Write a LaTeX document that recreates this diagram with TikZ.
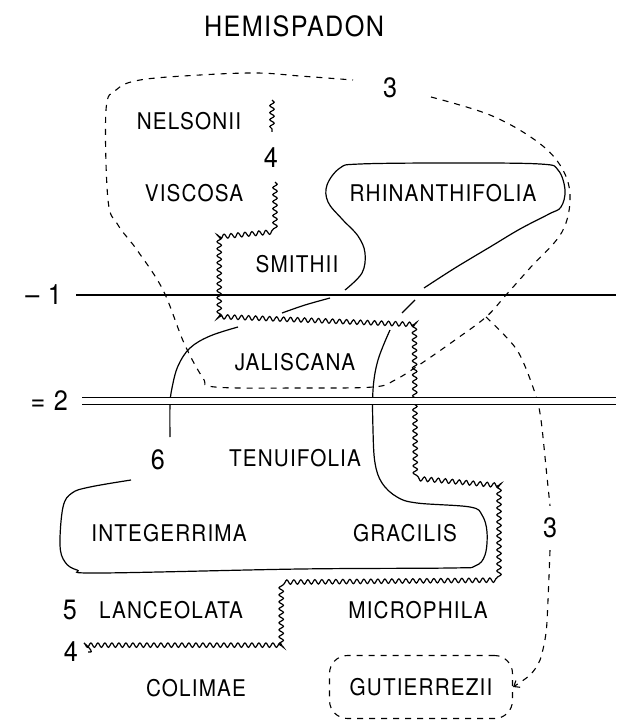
\documentclass[tikz,border=0pt]{standalone}
\usepackage{fontspec}
\setmainfont{TeX Gyre Heros}[FakeStretch=0.9,LetterSpace=5]
\usetikzlibrary{decorations.pathmorphing,arrows.meta}
\tikzset{
  lbl/.style={font=\fontsize{23}{26}\selectfont, inner sep=0pt},
  num/.style={font=\fontsize{28}{32}\selectfont, inner sep=0pt},
  ttl/.style={font=\fontsize{28}{32}\selectfont, inner sep=0pt},
  grp/.style={line width=1.2pt},
  dgrp/.style={line width=1.1pt, dash pattern=on 6pt off 6pt},
  wavy/.style={line width=1.2pt, decorate,
    decoration={snake, segment length=7pt, amplitude=2.2pt}},
  bar/.style={line width=1.3pt}
}
\begin{document}
\begin{tikzpicture}[x=1pt,y=-1pt]
  \useasboundingbox (0,0) rectangle (616,722);
  \node[ttl] (title) at (294,26) {HEMISPADON};
  \node[num] (threeT) at (390,88) {3};
  \node[lbl] (nelsonii) at (189,121) {NELSONII};
  \node[num] (fourT) at (271,158) {4};
  \node[lbl] (viscosa) at (194,193) {VISCOSA};
  \node[lbl] (rhin) at (443,193) {RHINANTHIFOLIA};
  \node[lbl] (smithii) at (297,264) {SMITHII};
  \node[lbl] (jalis) at (295,362) {JALISCANA};
  \node[num] (six) at (158,460) {6};
  \node[lbl] (tenui) at (295,458) {TENUIFOLIA};
  \node[lbl] (integ) at (169,533) {INTEGERRIMA};
  \node[lbl] (gracilis) at (405,533) {GRACILIS};
  \node[num, outer sep=12pt] (threeR) at (550,528) {3};
  \node[num] (five) at (70,610) {5};
  \node[lbl] (lanceo) at (171,610) {LANCEOLATA};
  \node[lbl] (microph) at (418,610) {MICROPHILA};
  \node[num] (fourB) at (71,652) {4};
  \node[lbl] (colimae) at (196,688) {COLIMAE};
  \node[lbl, draw, dgrp, rounded corners=18pt, minimum width=183pt,
    minimum height=63pt] (gut) at (421,687) {GUTIERREZII};

  % group 3, dashed
  \draw[dgrp] plot[smooth, tension=0.6] coordinates {(431,97) (490,115)
    (535,140) (560,165) (570,195) (562,232) (530,268) (506,295) (486,317)
    (455,340) (422,363) (395,380) (373,387) (300,388) (215,387) (203,378)
    (184,343) (163,290) (137,250) (118,225) (108,200) (106,110) (116,90)
    (140,80) (200,75) (257,73) (300,76) (353,80)};
  \coordinate (fork) at (486,317);
  \draw[dgrp] plot[smooth] coordinates {(fork) (517,350) (535,393)
    (541,420) (547,477) (threeR.north)};
  \draw[dgrp, -{Straight Barb[length=5pt,width=8pt]}] plot[smooth]
    coordinates {(threeR.south) (548,600) (546,633) (540,660) (530,675)
    (gut.east)};

  % group 6, solid
  \draw[grp] plot[smooth, tension=0.6] coordinates {(345,290) (362,273)
    (365,253) (358,236) (342,219) (328,202) (327,185) (340,168) (360,164)
    (450,163) (540,164) (558,170) (565,190) (561,207) (549,214) (520,229)
    (490,247) (455,268) (424,288)};
  \draw[grp] plot[smooth] coordinates {(330,298) (305,305) (282,313)};
  \draw[grp] plot[smooth] coordinates {(415,300) (402,313)};
  \draw[grp] plot[smooth, tension=0.6] coordinates {(390,330) (378,360)
    (373,390) (373,430) (375,463) (382,483) (397,497) (417,503) (470,507)
    (482,515) (487,532) (485,555) (475,566) (450,568) (300,569) (100,573)
    (77,570) (65,562) (60,545) (63,507) (72,493) (90,487) (131,480)};
  \draw[grp] plot[smooth, tension=0.6] coordinates {(170,437) (170,405)
    (172,388) (178,366) (190,348) (210,336) (238,327)};

  % group 4, wavy
  \draw[wavy] (272,100) -- (272,132);
  \draw[wavy] (275,182) -- (275,229) -- (220,234) -- (220,318)
    -- (419,326) -- (420,480) -- (503,487) -- (503,584) -- (293,586)
    -- (293,652) -- (88,652);

  % lines 1 and 2
  \node[num, anchor=east] (one) at (62,295) {– 1};
  \node[num, anchor=east] (two) at (68,401) {= 2};
  \coordinate (oneR) at (616,295);
  \coordinate (twoR) at (616,401);
  \draw[bar] ([xshift=14pt]one.east) -- (oneR);
  \draw[bar, double, double distance=5.5pt] ([xshift=14pt]two.east) -- (twoR);
\end{tikzpicture}
\end{document}
